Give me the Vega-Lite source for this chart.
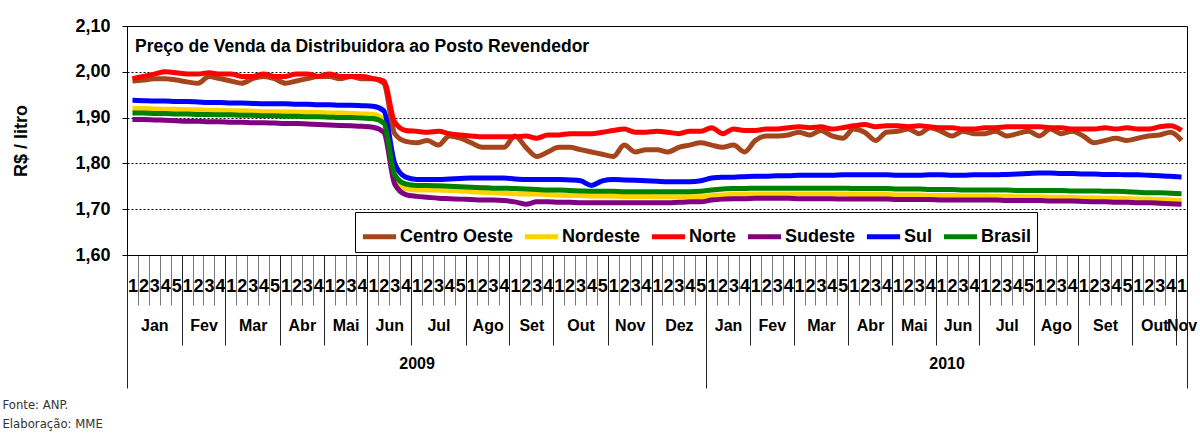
{
"$schema": "https://vega.github.io/schema/vega-lite/v6.json",
"background": "white",
"padding": {"top": 16, "left": 2, "right": 4, "bottom": 4},
"title": {"text": ["Fonte: ANP.", "Elaboração: MME"], "orient": "bottom", "anchor": "start", "frame": "bounds", "font": "Liberation Sans Narrow, DejaVu Sans Condensed, Liberation Sans, sans-serif", "fontSize": 13, "fontWeight": "normal", "color": "#333333", "lineHeight": 19, "offset": 10, "dx": -10},
"config": {"view": {"stroke": "black", "strokeWidth": 1}, "font": "Liberation Sans, Arial, sans-serif"},
"vconcat": [{
"width": 1060,
"height": 229,
"title": {"text": "Preço de Venda da Distribuidora ao Posto Revendedor", "anchor": "start", "frame": "group", "orient": "top", "offset": -38, "dx": 8, "font": "Liberation Sans Narrow, Liberation Sans, sans-serif", "fontSize": 17.5, "fontWeight": "bold", "color": "black"},
"data": {"values": [
{"s":"Centro Oeste","i":0,"v":1.98},{"s":"Centro Oeste","i":1,"v":1.982},{"s":"Centro Oeste","i":2,"v":1.985},{"s":"Centro Oeste","i":3,"v":1.985},{"s":"Centro Oeste","i":4,"v":1.982},{"s":"Centro Oeste","i":5,"v":1.978},{"s":"Centro Oeste","i":6,"v":1.975},{"s":"Centro Oeste","i":7,"v":1.99},{"s":"Centro Oeste","i":8,"v":1.985},{"s":"Centro Oeste","i":9,"v":1.98},{"s":"Centro Oeste","i":10,"v":1.975},{"s":"Centro Oeste","i":11,"v":1.985},{"s":"Centro Oeste","i":12,"v":1.99},{"s":"Centro Oeste","i":13,"v":1.985},{"s":"Centro Oeste","i":14,"v":1.975},{"s":"Centro Oeste","i":15,"v":1.98},{"s":"Centro Oeste","i":16,"v":1.985},{"s":"Centro Oeste","i":17,"v":1.99},{"s":"Centro Oeste","i":18,"v":1.99},{"s":"Centro Oeste","i":19,"v":1.985},{"s":"Centro Oeste","i":20,"v":1.99},{"s":"Centro Oeste","i":21,"v":1.985},{"s":"Centro Oeste","i":22,"v":1.985},{"s":"Centro Oeste","i":23,"v":1.975},{"s":"Centro Oeste","i":24,"v":1.865},{"s":"Centro Oeste","i":25,"v":1.848},{"s":"Centro Oeste","i":26,"v":1.845},{"s":"Centro Oeste","i":27,"v":1.85},{"s":"Centro Oeste","i":28,"v":1.84},{"s":"Centro Oeste","i":29,"v":1.86},{"s":"Centro Oeste","i":30,"v":1.855},{"s":"Centro Oeste","i":31,"v":1.845},{"s":"Centro Oeste","i":32,"v":1.835},{"s":"Centro Oeste","i":33,"v":1.835},{"s":"Centro Oeste","i":34,"v":1.835},{"s":"Centro Oeste","i":35,"v":1.86},{"s":"Centro Oeste","i":36,"v":1.835},{"s":"Centro Oeste","i":37,"v":1.815},{"s":"Centro Oeste","i":38,"v":1.825},{"s":"Centro Oeste","i":39,"v":1.835},{"s":"Centro Oeste","i":40,"v":1.835},{"s":"Centro Oeste","i":41,"v":1.83},{"s":"Centro Oeste","i":42,"v":1.825},{"s":"Centro Oeste","i":43,"v":1.82},{"s":"Centro Oeste","i":44,"v":1.815},{"s":"Centro Oeste","i":45,"v":1.84},{"s":"Centro Oeste","i":46,"v":1.825},{"s":"Centro Oeste","i":47,"v":1.83},{"s":"Centro Oeste","i":48,"v":1.83},{"s":"Centro Oeste","i":49,"v":1.825},{"s":"Centro Oeste","i":50,"v":1.835},{"s":"Centro Oeste","i":51,"v":1.84},{"s":"Centro Oeste","i":52,"v":1.845},{"s":"Centro Oeste","i":53,"v":1.84},{"s":"Centro Oeste","i":54,"v":1.835},{"s":"Centro Oeste","i":55,"v":1.84},{"s":"Centro Oeste","i":56,"v":1.825},{"s":"Centro Oeste","i":57,"v":1.85},{"s":"Centro Oeste","i":58,"v":1.86},{"s":"Centro Oeste","i":59,"v":1.86},{"s":"Centro Oeste","i":60,"v":1.862},{"s":"Centro Oeste","i":61,"v":1.868},{"s":"Centro Oeste","i":62,"v":1.862},{"s":"Centro Oeste","i":63,"v":1.872},{"s":"Centro Oeste","i":64,"v":1.86},{"s":"Centro Oeste","i":65,"v":1.855},{"s":"Centro Oeste","i":66,"v":1.875},{"s":"Centro Oeste","i":67,"v":1.868},{"s":"Centro Oeste","i":68,"v":1.85},{"s":"Centro Oeste","i":69,"v":1.868},{"s":"Centro Oeste","i":70,"v":1.87},{"s":"Centro Oeste","i":71,"v":1.875},{"s":"Centro Oeste","i":72,"v":1.865},{"s":"Centro Oeste","i":73,"v":1.878},{"s":"Centro Oeste","i":74,"v":1.87},{"s":"Centro Oeste","i":75,"v":1.86},{"s":"Centro Oeste","i":76,"v":1.87},{"s":"Centro Oeste","i":77,"v":1.865},{"s":"Centro Oeste","i":78,"v":1.865},{"s":"Centro Oeste","i":79,"v":1.87},{"s":"Centro Oeste","i":80,"v":1.86},{"s":"Centro Oeste","i":81,"v":1.865},{"s":"Centro Oeste","i":82,"v":1.87},{"s":"Centro Oeste","i":83,"v":1.86},{"s":"Centro Oeste","i":84,"v":1.875},{"s":"Centro Oeste","i":85,"v":1.865},{"s":"Centro Oeste","i":86,"v":1.87},{"s":"Centro Oeste","i":87,"v":1.86},{"s":"Centro Oeste","i":88,"v":1.845},{"s":"Centro Oeste","i":89,"v":1.85},{"s":"Centro Oeste","i":90,"v":1.855},{"s":"Centro Oeste","i":91,"v":1.85},{"s":"Centro Oeste","i":92,"v":1.855},{"s":"Centro Oeste","i":93,"v":1.86},{"s":"Centro Oeste","i":94,"v":1.862},{"s":"Centro Oeste","i":95,"v":1.868},{"s":"Centro Oeste","i":96,"v":1.85},
{"s":"Nordeste","i":0,"v":1.92},{"s":"Nordeste","i":1,"v":1.92},{"s":"Nordeste","i":2,"v":1.919},{"s":"Nordeste","i":3,"v":1.918},{"s":"Nordeste","i":4,"v":1.918},{"s":"Nordeste","i":5,"v":1.917},{"s":"Nordeste","i":6,"v":1.917},{"s":"Nordeste","i":7,"v":1.916},{"s":"Nordeste","i":8,"v":1.916},{"s":"Nordeste","i":9,"v":1.915},{"s":"Nordeste","i":10,"v":1.915},{"s":"Nordeste","i":11,"v":1.914},{"s":"Nordeste","i":12,"v":1.913},{"s":"Nordeste","i":13,"v":1.913},{"s":"Nordeste","i":14,"v":1.912},{"s":"Nordeste","i":15,"v":1.912},{"s":"Nordeste","i":16,"v":1.911},{"s":"Nordeste","i":17,"v":1.911},{"s":"Nordeste","i":18,"v":1.91},{"s":"Nordeste","i":19,"v":1.91},{"s":"Nordeste","i":20,"v":1.909},{"s":"Nordeste","i":21,"v":1.908},{"s":"Nordeste","i":22,"v":1.907},{"s":"Nordeste","i":23,"v":1.895},{"s":"Nordeste","i":24,"v":1.775},{"s":"Nordeste","i":25,"v":1.745},{"s":"Nordeste","i":26,"v":1.742},{"s":"Nordeste","i":27,"v":1.742},{"s":"Nordeste","i":28,"v":1.742},{"s":"Nordeste","i":29,"v":1.741},{"s":"Nordeste","i":30,"v":1.74},{"s":"Nordeste","i":31,"v":1.738},{"s":"Nordeste","i":32,"v":1.737},{"s":"Nordeste","i":33,"v":1.736},{"s":"Nordeste","i":34,"v":1.735},{"s":"Nordeste","i":35,"v":1.734},{"s":"Nordeste","i":36,"v":1.733},{"s":"Nordeste","i":37,"v":1.733},{"s":"Nordeste","i":38,"v":1.732},{"s":"Nordeste","i":39,"v":1.731},{"s":"Nordeste","i":40,"v":1.73},{"s":"Nordeste","i":41,"v":1.73},{"s":"Nordeste","i":42,"v":1.729},{"s":"Nordeste","i":43,"v":1.729},{"s":"Nordeste","i":44,"v":1.729},{"s":"Nordeste","i":45,"v":1.728},{"s":"Nordeste","i":46,"v":1.728},{"s":"Nordeste","i":47,"v":1.728},{"s":"Nordeste","i":48,"v":1.727},{"s":"Nordeste","i":49,"v":1.727},{"s":"Nordeste","i":50,"v":1.727},{"s":"Nordeste","i":51,"v":1.727},{"s":"Nordeste","i":52,"v":1.727},{"s":"Nordeste","i":53,"v":1.73},{"s":"Nordeste","i":54,"v":1.731},{"s":"Nordeste","i":55,"v":1.732},{"s":"Nordeste","i":56,"v":1.732},{"s":"Nordeste","i":57,"v":1.733},{"s":"Nordeste","i":58,"v":1.733},{"s":"Nordeste","i":59,"v":1.733},{"s":"Nordeste","i":60,"v":1.733},{"s":"Nordeste","i":61,"v":1.733},{"s":"Nordeste","i":62,"v":1.733},{"s":"Nordeste","i":63,"v":1.733},{"s":"Nordeste","i":64,"v":1.733},{"s":"Nordeste","i":65,"v":1.733},{"s":"Nordeste","i":66,"v":1.732},{"s":"Nordeste","i":67,"v":1.732},{"s":"Nordeste","i":68,"v":1.732},{"s":"Nordeste","i":69,"v":1.732},{"s":"Nordeste","i":70,"v":1.731},{"s":"Nordeste","i":71,"v":1.731},{"s":"Nordeste","i":72,"v":1.731},{"s":"Nordeste","i":73,"v":1.73},{"s":"Nordeste","i":74,"v":1.73},{"s":"Nordeste","i":75,"v":1.73},{"s":"Nordeste","i":76,"v":1.729},{"s":"Nordeste","i":77,"v":1.729},{"s":"Nordeste","i":78,"v":1.729},{"s":"Nordeste","i":79,"v":1.728},{"s":"Nordeste","i":80,"v":1.728},{"s":"Nordeste","i":81,"v":1.727},{"s":"Nordeste","i":82,"v":1.727},{"s":"Nordeste","i":83,"v":1.727},{"s":"Nordeste","i":84,"v":1.726},{"s":"Nordeste","i":85,"v":1.726},{"s":"Nordeste","i":86,"v":1.726},{"s":"Nordeste","i":87,"v":1.725},{"s":"Nordeste","i":88,"v":1.725},{"s":"Nordeste","i":89,"v":1.724},{"s":"Nordeste","i":90,"v":1.724},{"s":"Nordeste","i":91,"v":1.723},{"s":"Nordeste","i":92,"v":1.722},{"s":"Nordeste","i":93,"v":1.722},{"s":"Nordeste","i":94,"v":1.721},{"s":"Nordeste","i":95,"v":1.72},{"s":"Nordeste","i":96,"v":1.719},
{"s":"Norte","i":0,"v":1.985},{"s":"Norte","i":1,"v":1.99},{"s":"Norte","i":2,"v":1.995},{"s":"Norte","i":3,"v":2.0},{"s":"Norte","i":4,"v":1.998},{"s":"Norte","i":5,"v":1.995},{"s":"Norte","i":6,"v":1.995},{"s":"Norte","i":7,"v":1.998},{"s":"Norte","i":8,"v":1.995},{"s":"Norte","i":9,"v":1.995},{"s":"Norte","i":10,"v":1.99},{"s":"Norte","i":11,"v":1.99},{"s":"Norte","i":12,"v":1.995},{"s":"Norte","i":13,"v":1.99},{"s":"Norte","i":14,"v":1.99},{"s":"Norte","i":15,"v":1.995},{"s":"Norte","i":16,"v":1.995},{"s":"Norte","i":17,"v":1.99},{"s":"Norte","i":18,"v":1.995},{"s":"Norte","i":19,"v":1.99},{"s":"Norte","i":20,"v":1.99},{"s":"Norte","i":21,"v":1.99},{"s":"Norte","i":22,"v":1.985},{"s":"Norte","i":23,"v":1.98},{"s":"Norte","i":24,"v":1.89},{"s":"Norte","i":25,"v":1.872},{"s":"Norte","i":26,"v":1.87},{"s":"Norte","i":27,"v":1.868},{"s":"Norte","i":28,"v":1.87},{"s":"Norte","i":29,"v":1.865},{"s":"Norte","i":30,"v":1.862},{"s":"Norte","i":31,"v":1.86},{"s":"Norte","i":32,"v":1.858},{"s":"Norte","i":33,"v":1.858},{"s":"Norte","i":34,"v":1.858},{"s":"Norte","i":35,"v":1.858},{"s":"Norte","i":36,"v":1.86},{"s":"Norte","i":37,"v":1.855},{"s":"Norte","i":38,"v":1.862},{"s":"Norte","i":39,"v":1.862},{"s":"Norte","i":40,"v":1.865},{"s":"Norte","i":41,"v":1.865},{"s":"Norte","i":42,"v":1.865},{"s":"Norte","i":43,"v":1.868},{"s":"Norte","i":44,"v":1.872},{"s":"Norte","i":45,"v":1.875},{"s":"Norte","i":46,"v":1.868},{"s":"Norte","i":47,"v":1.868},{"s":"Norte","i":48,"v":1.87},{"s":"Norte","i":49,"v":1.868},{"s":"Norte","i":50,"v":1.865},{"s":"Norte","i":51,"v":1.87},{"s":"Norte","i":52,"v":1.87},{"s":"Norte","i":53,"v":1.878},{"s":"Norte","i":54,"v":1.865},{"s":"Norte","i":55,"v":1.875},{"s":"Norte","i":56,"v":1.872},{"s":"Norte","i":57,"v":1.872},{"s":"Norte","i":58,"v":1.875},{"s":"Norte","i":59,"v":1.875},{"s":"Norte","i":60,"v":1.878},{"s":"Norte","i":61,"v":1.88},{"s":"Norte","i":62,"v":1.878},{"s":"Norte","i":63,"v":1.88},{"s":"Norte","i":64,"v":1.875},{"s":"Norte","i":65,"v":1.878},{"s":"Norte","i":66,"v":1.882},{"s":"Norte","i":67,"v":1.885},{"s":"Norte","i":68,"v":1.88},{"s":"Norte","i":69,"v":1.882},{"s":"Norte","i":70,"v":1.882},{"s":"Norte","i":71,"v":1.88},{"s":"Norte","i":72,"v":1.882},{"s":"Norte","i":73,"v":1.88},{"s":"Norte","i":74,"v":1.878},{"s":"Norte","i":75,"v":1.878},{"s":"Norte","i":76,"v":1.875},{"s":"Norte","i":77,"v":1.875},{"s":"Norte","i":78,"v":1.878},{"s":"Norte","i":79,"v":1.878},{"s":"Norte","i":80,"v":1.88},{"s":"Norte","i":81,"v":1.88},{"s":"Norte","i":82,"v":1.88},{"s":"Norte","i":83,"v":1.88},{"s":"Norte","i":84,"v":1.878},{"s":"Norte","i":85,"v":1.878},{"s":"Norte","i":86,"v":1.875},{"s":"Norte","i":87,"v":1.875},{"s":"Norte","i":88,"v":1.875},{"s":"Norte","i":89,"v":1.878},{"s":"Norte","i":90,"v":1.875},{"s":"Norte","i":91,"v":1.878},{"s":"Norte","i":92,"v":1.875},{"s":"Norte","i":93,"v":1.875},{"s":"Norte","i":94,"v":1.88},{"s":"Norte","i":95,"v":1.882},{"s":"Norte","i":96,"v":1.872},
{"s":"Sudeste","i":0,"v":1.896},{"s":"Sudeste","i":1,"v":1.896},{"s":"Sudeste","i":2,"v":1.895},{"s":"Sudeste","i":3,"v":1.894},{"s":"Sudeste","i":4,"v":1.893},{"s":"Sudeste","i":5,"v":1.892},{"s":"Sudeste","i":6,"v":1.892},{"s":"Sudeste","i":7,"v":1.891},{"s":"Sudeste","i":8,"v":1.891},{"s":"Sudeste","i":9,"v":1.89},{"s":"Sudeste","i":10,"v":1.89},{"s":"Sudeste","i":11,"v":1.889},{"s":"Sudeste","i":12,"v":1.889},{"s":"Sudeste","i":13,"v":1.888},{"s":"Sudeste","i":14,"v":1.887},{"s":"Sudeste","i":15,"v":1.887},{"s":"Sudeste","i":16,"v":1.886},{"s":"Sudeste","i":17,"v":1.885},{"s":"Sudeste","i":18,"v":1.884},{"s":"Sudeste","i":19,"v":1.883},{"s":"Sudeste","i":20,"v":1.882},{"s":"Sudeste","i":21,"v":1.881},{"s":"Sudeste","i":22,"v":1.879},{"s":"Sudeste","i":23,"v":1.868},{"s":"Sudeste","i":24,"v":1.755},{"s":"Sudeste","i":25,"v":1.732},{"s":"Sudeste","i":26,"v":1.728},{"s":"Sudeste","i":27,"v":1.726},{"s":"Sudeste","i":28,"v":1.724},{"s":"Sudeste","i":29,"v":1.723},{"s":"Sudeste","i":30,"v":1.722},{"s":"Sudeste","i":31,"v":1.721},{"s":"Sudeste","i":32,"v":1.72},{"s":"Sudeste","i":33,"v":1.72},{"s":"Sudeste","i":34,"v":1.719},{"s":"Sudeste","i":35,"v":1.716},{"s":"Sudeste","i":36,"v":1.711},{"s":"Sudeste","i":37,"v":1.716},{"s":"Sudeste","i":38,"v":1.716},{"s":"Sudeste","i":39,"v":1.715},{"s":"Sudeste","i":40,"v":1.715},{"s":"Sudeste","i":41,"v":1.714},{"s":"Sudeste","i":42,"v":1.714},{"s":"Sudeste","i":43,"v":1.714},{"s":"Sudeste","i":44,"v":1.714},{"s":"Sudeste","i":45,"v":1.714},{"s":"Sudeste","i":46,"v":1.714},{"s":"Sudeste","i":47,"v":1.714},{"s":"Sudeste","i":48,"v":1.714},{"s":"Sudeste","i":49,"v":1.714},{"s":"Sudeste","i":50,"v":1.715},{"s":"Sudeste","i":51,"v":1.716},{"s":"Sudeste","i":52,"v":1.716},{"s":"Sudeste","i":53,"v":1.72},{"s":"Sudeste","i":54,"v":1.722},{"s":"Sudeste","i":55,"v":1.723},{"s":"Sudeste","i":56,"v":1.723},{"s":"Sudeste","i":57,"v":1.724},{"s":"Sudeste","i":58,"v":1.724},{"s":"Sudeste","i":59,"v":1.724},{"s":"Sudeste","i":60,"v":1.724},{"s":"Sudeste","i":61,"v":1.723},{"s":"Sudeste","i":62,"v":1.723},{"s":"Sudeste","i":63,"v":1.723},{"s":"Sudeste","i":64,"v":1.723},{"s":"Sudeste","i":65,"v":1.722},{"s":"Sudeste","i":66,"v":1.722},{"s":"Sudeste","i":67,"v":1.722},{"s":"Sudeste","i":68,"v":1.722},{"s":"Sudeste","i":69,"v":1.722},{"s":"Sudeste","i":70,"v":1.721},{"s":"Sudeste","i":71,"v":1.721},{"s":"Sudeste","i":72,"v":1.721},{"s":"Sudeste","i":73,"v":1.721},{"s":"Sudeste","i":74,"v":1.72},{"s":"Sudeste","i":75,"v":1.72},{"s":"Sudeste","i":76,"v":1.72},{"s":"Sudeste","i":77,"v":1.72},{"s":"Sudeste","i":78,"v":1.72},{"s":"Sudeste","i":79,"v":1.72},{"s":"Sudeste","i":80,"v":1.719},{"s":"Sudeste","i":81,"v":1.719},{"s":"Sudeste","i":82,"v":1.719},{"s":"Sudeste","i":83,"v":1.719},{"s":"Sudeste","i":84,"v":1.718},{"s":"Sudeste","i":85,"v":1.718},{"s":"Sudeste","i":86,"v":1.718},{"s":"Sudeste","i":87,"v":1.717},{"s":"Sudeste","i":88,"v":1.716},{"s":"Sudeste","i":89,"v":1.716},{"s":"Sudeste","i":90,"v":1.715},{"s":"Sudeste","i":91,"v":1.715},{"s":"Sudeste","i":92,"v":1.714},{"s":"Sudeste","i":93,"v":1.714},{"s":"Sudeste","i":94,"v":1.713},{"s":"Sudeste","i":95,"v":1.712},{"s":"Sudeste","i":96,"v":1.711},
{"s":"Sul","i":0,"v":1.938},{"s":"Sul","i":1,"v":1.937},{"s":"Sul","i":2,"v":1.936},{"s":"Sul","i":3,"v":1.936},{"s":"Sul","i":4,"v":1.935},{"s":"Sul","i":5,"v":1.935},{"s":"Sul","i":6,"v":1.934},{"s":"Sul","i":7,"v":1.933},{"s":"Sul","i":8,"v":1.933},{"s":"Sul","i":9,"v":1.932},{"s":"Sul","i":10,"v":1.932},{"s":"Sul","i":11,"v":1.931},{"s":"Sul","i":12,"v":1.93},{"s":"Sul","i":13,"v":1.93},{"s":"Sul","i":14,"v":1.93},{"s":"Sul","i":15,"v":1.929},{"s":"Sul","i":16,"v":1.929},{"s":"Sul","i":17,"v":1.928},{"s":"Sul","i":18,"v":1.928},{"s":"Sul","i":19,"v":1.927},{"s":"Sul","i":20,"v":1.927},{"s":"Sul","i":21,"v":1.926},{"s":"Sul","i":22,"v":1.925},{"s":"Sul","i":23,"v":1.915},{"s":"Sul","i":24,"v":1.8},{"s":"Sul","i":25,"v":1.77},{"s":"Sul","i":26,"v":1.765},{"s":"Sul","i":27,"v":1.765},{"s":"Sul","i":28,"v":1.765},{"s":"Sul","i":29,"v":1.766},{"s":"Sul","i":30,"v":1.767},{"s":"Sul","i":31,"v":1.768},{"s":"Sul","i":32,"v":1.768},{"s":"Sul","i":33,"v":1.768},{"s":"Sul","i":34,"v":1.768},{"s":"Sul","i":35,"v":1.766},{"s":"Sul","i":36,"v":1.765},{"s":"Sul","i":37,"v":1.765},{"s":"Sul","i":38,"v":1.765},{"s":"Sul","i":39,"v":1.765},{"s":"Sul","i":40,"v":1.764},{"s":"Sul","i":41,"v":1.762},{"s":"Sul","i":42,"v":1.752},{"s":"Sul","i":43,"v":1.762},{"s":"Sul","i":44,"v":1.765},{"s":"Sul","i":45,"v":1.764},{"s":"Sul","i":46,"v":1.763},{"s":"Sul","i":47,"v":1.762},{"s":"Sul","i":48,"v":1.761},{"s":"Sul","i":49,"v":1.76},{"s":"Sul","i":50,"v":1.76},{"s":"Sul","i":51,"v":1.76},{"s":"Sul","i":52,"v":1.762},{"s":"Sul","i":53,"v":1.768},{"s":"Sul","i":54,"v":1.77},{"s":"Sul","i":55,"v":1.77},{"s":"Sul","i":56,"v":1.771},{"s":"Sul","i":57,"v":1.772},{"s":"Sul","i":58,"v":1.772},{"s":"Sul","i":59,"v":1.773},{"s":"Sul","i":60,"v":1.773},{"s":"Sul","i":61,"v":1.774},{"s":"Sul","i":62,"v":1.774},{"s":"Sul","i":63,"v":1.774},{"s":"Sul","i":64,"v":1.774},{"s":"Sul","i":65,"v":1.775},{"s":"Sul","i":66,"v":1.775},{"s":"Sul","i":67,"v":1.775},{"s":"Sul","i":68,"v":1.775},{"s":"Sul","i":69,"v":1.775},{"s":"Sul","i":70,"v":1.774},{"s":"Sul","i":71,"v":1.774},{"s":"Sul","i":72,"v":1.774},{"s":"Sul","i":73,"v":1.775},{"s":"Sul","i":74,"v":1.775},{"s":"Sul","i":75,"v":1.774},{"s":"Sul","i":76,"v":1.774},{"s":"Sul","i":77,"v":1.775},{"s":"Sul","i":78,"v":1.775},{"s":"Sul","i":79,"v":1.775},{"s":"Sul","i":80,"v":1.776},{"s":"Sul","i":81,"v":1.777},{"s":"Sul","i":82,"v":1.778},{"s":"Sul","i":83,"v":1.779},{"s":"Sul","i":84,"v":1.779},{"s":"Sul","i":85,"v":1.778},{"s":"Sul","i":86,"v":1.778},{"s":"Sul","i":87,"v":1.777},{"s":"Sul","i":88,"v":1.777},{"s":"Sul","i":89,"v":1.776},{"s":"Sul","i":90,"v":1.776},{"s":"Sul","i":91,"v":1.775},{"s":"Sul","i":92,"v":1.775},{"s":"Sul","i":93,"v":1.774},{"s":"Sul","i":94,"v":1.773},{"s":"Sul","i":95,"v":1.772},{"s":"Sul","i":96,"v":1.77},
{"s":"Brasil","i":0,"v":1.91},{"s":"Brasil","i":1,"v":1.91},{"s":"Brasil","i":2,"v":1.909},{"s":"Brasil","i":3,"v":1.909},{"s":"Brasil","i":4,"v":1.908},{"s":"Brasil","i":5,"v":1.908},{"s":"Brasil","i":6,"v":1.907},{"s":"Brasil","i":7,"v":1.907},{"s":"Brasil","i":8,"v":1.906},{"s":"Brasil","i":9,"v":1.906},{"s":"Brasil","i":10,"v":1.905},{"s":"Brasil","i":11,"v":1.905},{"s":"Brasil","i":12,"v":1.904},{"s":"Brasil","i":13,"v":1.904},{"s":"Brasil","i":14,"v":1.903},{"s":"Brasil","i":15,"v":1.903},{"s":"Brasil","i":16,"v":1.902},{"s":"Brasil","i":17,"v":1.902},{"s":"Brasil","i":18,"v":1.901},{"s":"Brasil","i":19,"v":1.9},{"s":"Brasil","i":20,"v":1.9},{"s":"Brasil","i":21,"v":1.899},{"s":"Brasil","i":22,"v":1.898},{"s":"Brasil","i":23,"v":1.888},{"s":"Brasil","i":24,"v":1.775},{"s":"Brasil","i":25,"v":1.755},{"s":"Brasil","i":26,"v":1.752},{"s":"Brasil","i":27,"v":1.752},{"s":"Brasil","i":28,"v":1.751},{"s":"Brasil","i":29,"v":1.75},{"s":"Brasil","i":30,"v":1.749},{"s":"Brasil","i":31,"v":1.748},{"s":"Brasil","i":32,"v":1.747},{"s":"Brasil","i":33,"v":1.746},{"s":"Brasil","i":34,"v":1.746},{"s":"Brasil","i":35,"v":1.745},{"s":"Brasil","i":36,"v":1.744},{"s":"Brasil","i":37,"v":1.743},{"s":"Brasil","i":38,"v":1.742},{"s":"Brasil","i":39,"v":1.742},{"s":"Brasil","i":40,"v":1.741},{"s":"Brasil","i":41,"v":1.74},{"s":"Brasil","i":42,"v":1.739},{"s":"Brasil","i":43,"v":1.739},{"s":"Brasil","i":44,"v":1.739},{"s":"Brasil","i":45,"v":1.738},{"s":"Brasil","i":46,"v":1.738},{"s":"Brasil","i":47,"v":1.738},{"s":"Brasil","i":48,"v":1.738},{"s":"Brasil","i":49,"v":1.738},{"s":"Brasil","i":50,"v":1.738},{"s":"Brasil","i":51,"v":1.738},{"s":"Brasil","i":52,"v":1.739},{"s":"Brasil","i":53,"v":1.742},{"s":"Brasil","i":54,"v":1.744},{"s":"Brasil","i":55,"v":1.745},{"s":"Brasil","i":56,"v":1.745},{"s":"Brasil","i":57,"v":1.746},{"s":"Brasil","i":58,"v":1.746},{"s":"Brasil","i":59,"v":1.746},{"s":"Brasil","i":60,"v":1.746},{"s":"Brasil","i":61,"v":1.746},{"s":"Brasil","i":62,"v":1.746},{"s":"Brasil","i":63,"v":1.746},{"s":"Brasil","i":64,"v":1.746},{"s":"Brasil","i":65,"v":1.746},{"s":"Brasil","i":66,"v":1.745},{"s":"Brasil","i":67,"v":1.745},{"s":"Brasil","i":68,"v":1.745},{"s":"Brasil","i":69,"v":1.745},{"s":"Brasil","i":70,"v":1.744},{"s":"Brasil","i":71,"v":1.744},{"s":"Brasil","i":72,"v":1.744},{"s":"Brasil","i":73,"v":1.743},{"s":"Brasil","i":74,"v":1.743},{"s":"Brasil","i":75,"v":1.743},{"s":"Brasil","i":76,"v":1.742},{"s":"Brasil","i":77,"v":1.742},{"s":"Brasil","i":78,"v":1.742},{"s":"Brasil","i":79,"v":1.742},{"s":"Brasil","i":80,"v":1.742},{"s":"Brasil","i":81,"v":1.741},{"s":"Brasil","i":82,"v":1.741},{"s":"Brasil","i":83,"v":1.741},{"s":"Brasil","i":84,"v":1.741},{"s":"Brasil","i":85,"v":1.741},{"s":"Brasil","i":86,"v":1.74},{"s":"Brasil","i":87,"v":1.74},{"s":"Brasil","i":88,"v":1.74},{"s":"Brasil","i":89,"v":1.739},{"s":"Brasil","i":90,"v":1.739},{"s":"Brasil","i":91,"v":1.738},{"s":"Brasil","i":92,"v":1.737},{"s":"Brasil","i":93,"v":1.736},{"s":"Brasil","i":94,"v":1.736},{"s":"Brasil","i":95,"v":1.735},{"s":"Brasil","i":96,"v":1.734}
]},
"layer": [
{"mark": {"type": "line", "strokeWidth": 5, "interpolate": "monotone"},
 "encoding": {
  "x": {"field": "i", "type": "quantitative", "scale": {"domain": [-0.5, 96.5], "nice": false, "zero": false},
   "axis": {"orient": "bottom", "title": null, "grid": false, "labels": false, "domain": true, "domainColor": "black", "ticks": true, "tickSize": 50, "tickColor": "#777777", "tickWidth": 1,
    "values": [-0.5,0.5,1.5,2.5,3.5,4.5,5.5,6.5,7.5,8.5,9.5,10.5,11.5,12.5,13.5,14.5,15.5,16.5,17.5,18.5,19.5,20.5,21.5,22.5,23.5,24.5,25.5,26.5,27.5,28.5,29.5,30.5,31.5,32.5,33.5,34.5,35.5,36.5,37.5,38.5,39.5,40.5,41.5,42.5,43.5,44.5,45.5,46.5,47.5,48.5,49.5,50.5,51.5,52.5,53.5,54.5,55.5,56.5,57.5,58.5,59.5,60.5,61.5,62.5,63.5,64.5,65.5,66.5,67.5,68.5,69.5,70.5,71.5,72.5,73.5,74.5,75.5,76.5,77.5,78.5,79.5,80.5,81.5,82.5,83.5,84.5,85.5,86.5,87.5,88.5,89.5,90.5,91.5,92.5,93.5,94.5,95.5,96.5]}},
  "y": {"field": "v", "type": "quantitative", "title": "R$ / litro", "scale": {"domain": [1.6, 2.1], "nice": false, "zero": false},
   "axis": {"orient": "left", "values": [1.6, 1.7, 1.8, 1.9, 2.0, 2.1], "labelExpr": "replace(format(datum.value, '.2f'), '.', ',')", "labelFontSize": 18, "labelFontWeight": "bold", "labelColor": "black", "labelPadding": 12, "tickSize": 5, "tickColor": "black", "domainColor": "black", "grid": true, "gridColor": "black", "gridDash": [2, 2], "gridWidth": 1, "titleFontSize": 18, "titleFontWeight": "bold", "titleColor": "black", "titlePadding": 44}},
  "color": {"field": "s", "type": "nominal",
   "scale": {"domain": ["Centro Oeste", "Nordeste", "Norte", "Sudeste", "Sul", "Brasil"], "range": ["#A5451B", "#FFD200", "#FF0000", "#800080", "#0000FF", "#008000"]},
   "legend": {"orient": "none", "legendX": 228, "legendY": 186, "direction": "horizontal", "columns": 6, "title": null, "symbolType": "stroke", "symbolStrokeWidth": 5, "symbolSize": 1100, "labelFontSize": 18, "labelFontWeight": "bold", "labelColor": "black", "strokeColor": "black", "fillColor": "white", "padding": 5, "columnPadding": 0, "labelOffset": 1}}
 }},
{"mark": {"type": "point", "opacity": 0},
 "encoding": {
  "x": {"field": "i", "type": "quantitative",
   "axis": {"orient": "bottom", "title": null, "grid": false, "domain": false, "ticks": false, "labelPadding": 22, "labelFontSize": 18, "labelFontWeight": "bold", "labelColor": "black", "labelOverlap": false, "labelBound": false, "labelFlush": false,
    "labelExpr": "substring('1234512341234512341234123412345123412341234512341234512341234123451234123412341234512341234512341', datum.value, datum.value + 1)",
    "values": [0,1,2,3,4,5,6,7,8,9,10,11,12,13,14,15,16,17,18,19,20,21,22,23,24,25,26,27,28,29,30,31,32,33,34,35,36,37,38,39,40,41,42,43,44,45,46,47,48,49,50,51,52,53,54,55,56,57,58,59,60,61,62,63,64,65,66,67,68,69,70,71,72,73,74,75,76,77,78,79,80,81,82,83,84,85,86,87,88,89,90,91,92,93,94,95,96]}},
  "y": {"field": "v", "type": "quantitative", "title": "R$ / litro"}
 }},
{"mark": {"type": "point", "opacity": 0},
 "encoding": {
  "x": {"field": "i", "type": "quantitative",
   "axis": {"orient": "bottom", "title": null, "grid": false, "domain": false, "labels": false, "ticks": true, "tickSize": 90, "tickColor": "#222222", "tickWidth": 1,
    "values": [-0.5, 4.5, 8.5, 13.5, 17.5, 21.5, 25.5, 30.5, 34.5, 38.5, 43.5, 47.5, 52.5, 56.5, 60.5, 65.5, 69.5, 73.5, 77.5, 82.5, 86.5, 91.5, 95.5, 96.5]}},
  "y": {"field": "v", "type": "quantitative", "title": "R$ / litro"}
 }},
{"mark": {"type": "point", "opacity": 0},
 "encoding": {
  "x": {"field": "i", "type": "quantitative",
   "axis": {"orient": "bottom", "title": null, "grid": false, "domain": false, "ticks": false, "labelPadding": 62, "labelFontSize": 16, "labelFontWeight": "bold", "labelColor": "black", "labelOverlap": false, "labelBound": false, "labelFlush": false,
    "labelExpr": "['Jan','Fev','Mar','Abr','Mai','Jun','Jul','Ago','Set','Out','Nov','Dez','Jan','Fev','Mar','Abr','Mai','Jun','Jul','Ago','Set','Out','Nov'][indexof([2,6.5,11,15.5,19.5,23.5,28,32.5,36.5,41,45.5,50,54.5,58.5,63,67.5,71.5,75.5,80,84.5,89,93.5,96], datum.value)]",
    "values": [2, 6.5, 11, 15.5, 19.5, 23.5, 28, 32.5, 36.5, 41, 45.5, 50, 54.5, 58.5, 63, 67.5, 71.5, 75.5, 80, 84.5, 89, 93.5, 96]}},
  "y": {"field": "v", "type": "quantitative", "title": "R$ / litro"}
 }},
{"mark": {"type": "point", "opacity": 0},
 "encoding": {
  "x": {"field": "i", "type": "quantitative",
   "axis": {"orient": "bottom", "title": null, "grid": false, "domain": false, "labels": false, "ticks": true, "tickSize": 133, "tickColor": "#222222", "tickWidth": 1,
    "values": [-0.5, 52.5, 96.5]}},
  "y": {"field": "v", "type": "quantitative", "title": "R$ / litro"}
 }},
{"mark": {"type": "point", "opacity": 0},
 "encoding": {
  "x": {"field": "i", "type": "quantitative",
   "axis": {"orient": "bottom", "title": null, "grid": false, "domain": false, "ticks": false, "labelPadding": 100, "labelFontSize": 16, "labelFontWeight": "bold", "labelColor": "black", "labelOverlap": false, "labelBound": false, "labelFlush": false,
    "labelExpr": "datum.value < 50 ? '2009' : '2010'",
    "values": [26, 74.5]}},
  "y": {"field": "v", "type": "quantitative", "title": "R$ / litro"}
 }}
],
"resolve": {"axis": {"x": "independent"}}
}]
}
